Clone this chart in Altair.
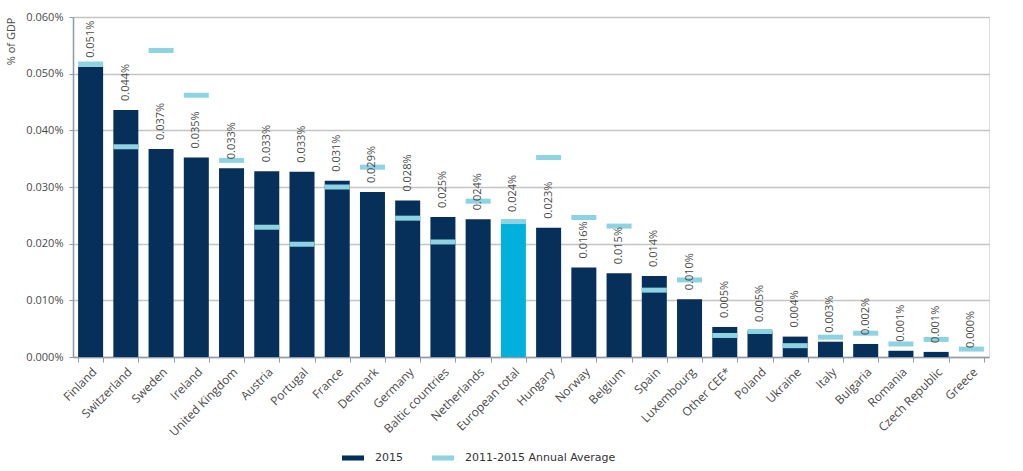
import altair as alt
import pandas as pd

countries = ["Finland", "Switzerland", "Sweden", "Ireland", "United Kingdom", "Austria",
             "Portugal", "France", "Denmark", "Germany", "Baltic countries", "Netherlands",
             "European total", "Hungary", "Norway", "Belgium", "Spain", "Luxembourg",
             "Other CEE*", "Poland", "Ukraine", "Italy", "Bulgaria", "Romania",
             "Czech Republic", "Greece"]

# % of GDP (percent units)
v2015 = [0.0512, 0.0436, 0.0367, 0.0352, 0.0333, 0.0328, 0.0327, 0.0311, 0.0291, 0.0276,
         0.0247, 0.0243, 0.0240, 0.0228, 0.0158, 0.0148, 0.0143, 0.0102, 0.0053, 0.0046,
         0.0036, 0.0027, 0.0023, 0.0011, 0.0009, 0.0000]

avg_2011_2015 = [0.0517, 0.0371, 0.0541, 0.0462, 0.0347, 0.0229, 0.0199, 0.0300, 0.0335,
                 0.0245, 0.0203, 0.0275, 0.0239, 0.0352, 0.0246, 0.0231, 0.0118, 0.0136,
                 0.0038, 0.0045, 0.0020, 0.0035, 0.0042, 0.0023, 0.0031, 0.0014]

y_ticks = [0.0, 0.01, 0.02, 0.03, 0.04, 0.05, 0.06]
series_names = ["2015", "2011-2015 Annual Average"]

NAVY = "#06305a"
CYAN = "#00b1db"
LIGHT = "#8dd3e2"
AXIS = "#8c9bab"
GRID = "#c4c4c4"
TEXT = "#4a4a4a"

df = pd.DataFrame({"country": countries, "v2015": v2015, "avg": avg_2011_2015})

color_scale = alt.Scale(domain=series_names, range=[NAVY, LIGHT])
legend = alt.Legend(
    title=None, orient="none", legendX=269, legendY=430, direction="horizontal",
    symbolType="M-1,-0.23L1,-0.23L1,0.23L-1,0.23Z", symbolSize=484, symbolStrokeWidth=0,
    labelFont="DejaVu Sans", labelFontSize=11, labelColor="#333333", labelOffset=11,
    columnPadding=29,
)

x_enc = alt.X(
    "country:N", sort=countries,
    scale=alt.Scale(paddingInner=0.29, paddingOuter=0.145),
    axis=alt.Axis(
        title=None, labelAngle=-45, labelAlign="right", labelBaseline="top",
        tickBand="extent", labelFont="Open Sans", labelFontSize=12, labelColor=TEXT,
        domainColor=AXIS, domainWidth=1.5, tickColor=AXIS, tickSize=5, labelPadding=4,
        grid=False,
    ),
)
y_scale = alt.Scale(domain=[0, 0.06], nice=False)
y_axis = alt.Axis(
    title="% of GDP", values=y_ticks, labelExpr="format(datum.value, '.3f') + '%'",
    labelFont="Open Sans", labelFontSize=11, labelColor=TEXT, labelPadding=6,
    titleFont="Open Sans", titleFontSize=11, titleColor=TEXT, titleFontWeight="normal",
    titleAnchor="end", titlePadding=9,
    domainColor=AXIS, domainWidth=1.5, tickColor=AXIS, tickSize=4,
    grid=True, gridColor=GRID, gridWidth=1.5,
)

base = alt.Chart(df)

bars = base.transform_calculate(series="'2015'").mark_bar().encode(
    x=x_enc,
    y=alt.Y("v2015:Q", scale=y_scale, axis=y_axis),
    color=alt.condition(
        "datum.country == 'European total'",
        alt.value(CYAN),
        alt.Color("series:N", scale=color_scale, legend=legend),
    ),
)

ticks = base.transform_calculate(series="'2011-2015 Annual Average'").mark_tick(
    size=25, thickness=5, opacity=1
).encode(
    x=x_enc,
    y=alt.Y("avg:Q", scale=y_scale),
    color=alt.Color("series:N", scale=color_scale, legend=legend),
)

labels = base.transform_calculate(
    label="format(datum.v2015, '.3f') + '%'"
).mark_text(
    angle=270, align="left", baseline="middle", dx=9,
    font="Open Sans", fontSize=11, color=TEXT,
).encode(
    x=x_enc,
    y=alt.Y("v2015:Q", scale=y_scale),
    text="label:N",
)

chart = alt.layer(bars, ticks, labels).properties(
    width=916, height=340,
    autosize="none",
    padding={"left": 73, "top": 17, "right": 34, "bottom": 114},
).configure_view(stroke=None).configure(background="white")

chart.save("out.html", embed_options={"renderer": "svg", "actions": False})
